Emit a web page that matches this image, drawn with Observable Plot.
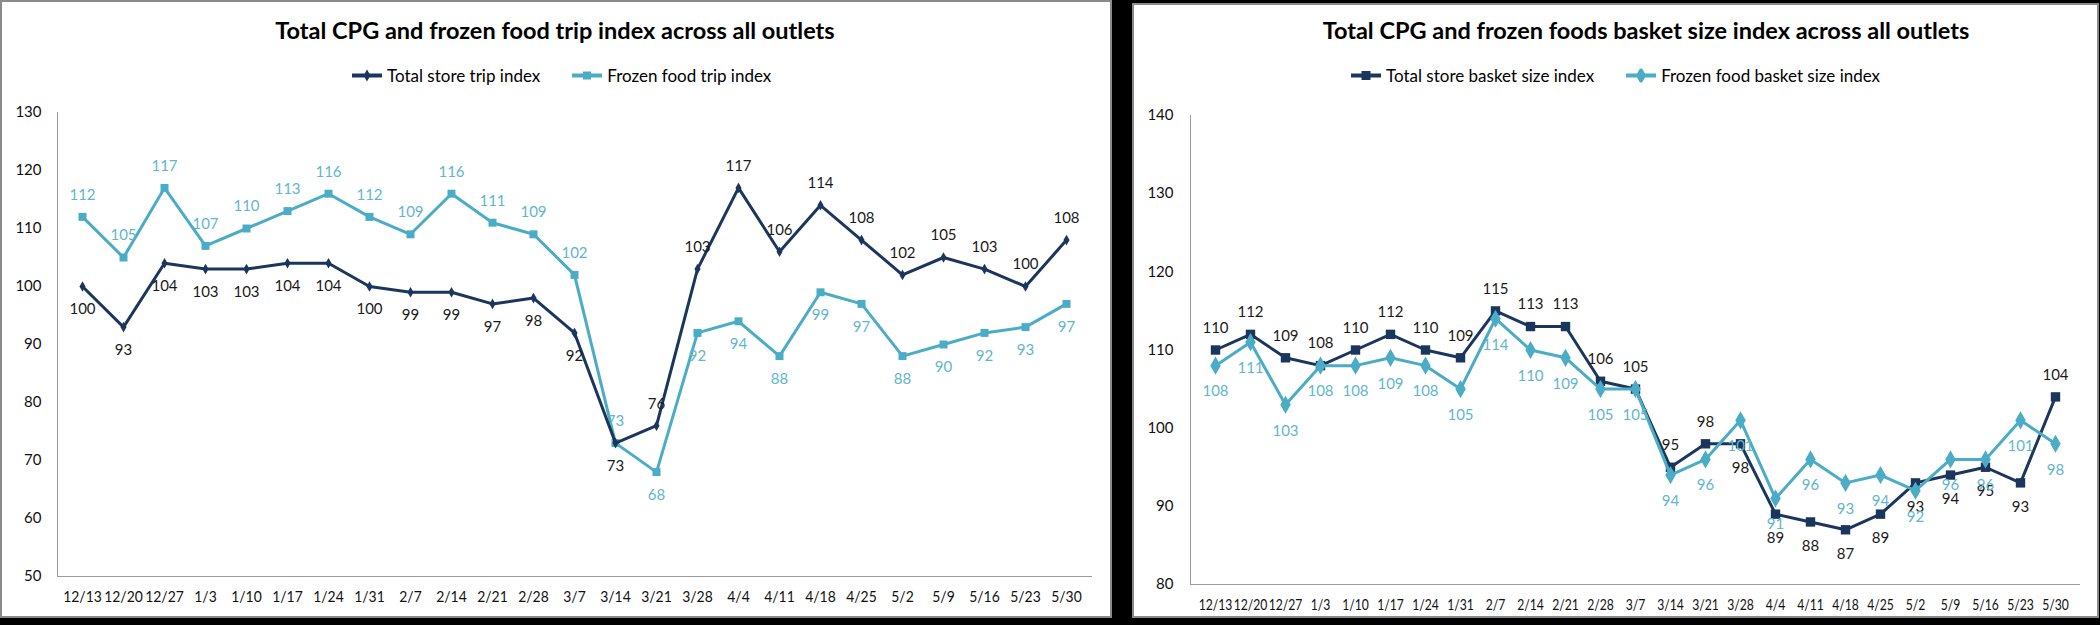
<!DOCTYPE html>
<html><head><meta charset="utf-8">
<script src="https://cdn.jsdelivr.net/npm/d3@7"></script>
<script src="https://cdn.jsdelivr.net/npm/@observablehq/plot@0.6"></script>
<style>
body{margin:0;background:#000;width:2100px;height:625px;overflow:hidden;font-family:Lato,"Open Sans",sans-serif;}
#root{position:relative;width:2100px;height:625px;}
.panel{position:absolute;background:#fff;border:2px solid #8a8a8a;box-sizing:border-box;}
.title{position:absolute;font-weight:700;font-size:23.5px;color:#000;white-space:nowrap;transform:translate(-50%,-50%);}
.legend{position:absolute;display:flex;align-items:center;font-size:17px;color:#000;white-space:nowrap;transform:translateY(-50%);}
.legend .item{display:flex;align-items:center;margin-right:31px;}
.legend svg{margin-right:4px;}
.chart{position:absolute;}
</style>
</head><body><div id="root"></div>
<script>
// ---- data ----
const dates = ["12/13","12/20","12/27","1/3","1/10","1/17","1/24","1/31","2/7","2/14","2/21","2/28","3/7","3/14","3/21","3/28","4/4","4/11","4/18","4/25","5/2","5/9","5/16","5/23","5/30"];

const tripTotal  = [100,93,104,103,103,104,104,100,99,99,97,98,92,73,76,103,117,106,114,108,102,105,103,100,108];
const tripFrozen = [112,105,117,107,110,113,116,112,109,116,111,109,102,73,68,92,94,88,99,97,88,90,92,93,97];
const basketTotal  = [110,112,109,108,110,112,110,109,115,113,113,106,105,95,98,98,89,88,87,89,93,94,95,93,104];
const basketFrozen = [108,111,103,108,108,109,108,105,114,110,109,105,105,94,96,101,91,96,93,94,92,96,96,101,98];

// data-label side: a = above, b = below
const tripTotalSide  = ["b","b","b","b","b","b","b","b","b","b","b","b","b","b","a","a","a","a","a","a","a","a","a","a","a"];
const tripFrozenSide = ["a","a","a","a","a","a","a","a","a","a","a","a","a","a","b","b","b","b","b","b","b","b","b","b","b"];
const basketTotalSide  = ["a","a","a","a","a","a","a","a","a","a","a","a","a","a","a","b","b","b","b","b","b","b","b","b","a"];
const basketFrozenSide = ["b","b","b","b","b","b","b","b","b","b","b","b","b","b","b","b","b","b","b","b","b","b","b","b","b"];

const tripTicks = [50,60,70,80,90,100,110,120,130];
const basketTicks = [80,90,100,110,120,130,140];

const tripTitle = "Total CPG and frozen food trip index across all outlets";
const basketTitle = "Total CPG and frozen foods basket size index across all outlets";
const tripSeriesNames = ["Total store trip index","Frozen food trip index"];
const basketSeriesNames = ["Total store basket size index","Frozen food basket size index"];

const DARK = "#1b365d", LIGHT = "#4bacc6", DARKLBL = "#1a1a1a", LIGHTLBL = "#62b6cc";

function rows(values, sides){ return dates.map((d,i)=>({date:d, value:values[i], side:sides[i]})); }

function seriesMarks(data, color, lblColor, symbol, r, dyA, dyB){
  return [
    Plot.line(data,{x:"date",y:"value",stroke:color,strokeWidth:3}),
    Plot.dot(data,{x:"date",y:"value",fill:color,symbol:symbol,r:r}),
    Plot.text(data.filter(d=>d.side==="a"),{x:"date",y:"value",text:d=>String(d.value),dy:-dyA,fill:lblColor,fontSize:15}),
    Plot.text(data.filter(d=>d.side==="b"),{x:"date",y:"value",text:d=>String(d.value),dy:dyB,fill:lblColor,fontSize:15})
  ];
}

function makeChart(opts){
  const svg = Plot.plot({
    width:opts.width, height:opts.height,
    marginLeft:opts.ml, marginRight:opts.mr, marginTop:opts.mt, marginBottom:opts.mb,
    style:{fontFamily:"Lato, 'Open Sans', sans-serif", fontSize:"15px", color:"#111", background:"transparent", overflow:"visible"},
    x:{type:"point", domain:dates, padding:0.5},
    y:{domain:opts.ydomain},
    marks:[
      Plot.frame({anchor:"left", stroke:"#9c9c9c"}),
      Plot.frame({anchor:"bottom", stroke:"#9c9c9c"}),
      Plot.axisY({ticks:opts.ticks, tickSize:0, tickPadding:opts.ytp, label:null, fontSize:15, tickFormat:d=>String(d)}),
      Plot.axisX({tickSize:0, tickPadding:14, label:null, fontSize:16}),
      ...opts.marks
    ]
  });
  // condense the date tick labels horizontally, as in the reference
  d3.select(svg).selectAll('g[aria-label="x-axis tick label"] text').each(function(){
    const t = this.getAttribute("transform") || "";
    this.setAttribute("transform", t + ` scale(${opts.xScale},1)`);
  });
  return svg;
}

function legendSym(color, symbol, size){
  const s = d3.select(document.createElementNS("http://www.w3.org/2000/svg","svg")).attr("width",32).attr("height",14);
  s.append("line").attr("x1",1).attr("x2",31).attr("y1",7).attr("y2",7).attr("stroke",color).attr("stroke-width",4);
  s.append("path").attr("transform","translate(16,7)").attr("fill",color)
    .attr("d", d3.symbol(symbol, size)());
  return s.node();
}
function makeLegend(left, top, items){
  const div = document.createElement("div");
  div.className = "legend"; div.style.left = left+"px"; div.style.top = top+"px";
  items.forEach(it=>{
    const item = document.createElement("div"); item.className="item";
    item.appendChild(legendSym(it.color, it.symbol, it.size));
    const t = document.createElement("span"); t.textContent = it.name; item.appendChild(t);
    div.appendChild(item);
  });
  return div;
}

const root = document.getElementById("root");
function panel(l,t,w,h){ const p=document.createElement("div"); p.className="panel"; Object.assign(p.style,{left:l+"px",top:t+"px",width:w+"px",height:h+"px"}); root.appendChild(p); }
function title(text,cx,cy){ const d=document.createElement("div"); d.className="title"; d.textContent=text; d.style.left=cx+"px"; d.style.top=cy+"px"; root.appendChild(d); }

panel(0,0,1112,618);
panel(1132,3,967,615);

title(tripTitle,555,30);
title(basketTitle,1646,30);

root.appendChild(makeLegend(351,75,[
  {name:tripSeriesNames[0], color:DARK, symbol:d3.symbolDiamond, size:40},
  {name:tripSeriesNames[1], color:LIGHT, symbol:d3.symbolSquare, size:64}
]));
root.appendChild(makeLegend(1350,75,[
  {name:basketSeriesNames[0], color:DARK, symbol:d3.symbolSquare, size:81},
  {name:basketSeriesNames[1], color:LIGHT, symbol:d3.symbolDiamond, size:90}
]));

const left = makeChart({width:1111,height:525,ml:57,mr:20,mt:22,mb:39,ydomain:[50,130],ticks:tripTicks,ytp:16,xScale:0.87,
  marks:[
    ...seriesMarks(rows(tripFrozen,tripFrozenSide), LIGHT, LIGHTLBL, "square", 4.5, 22, 23),
    ...seriesMarks(rows(tripTotal,tripTotalSide), DARK, DARKLBL, "diamond", 3.2, 22, 23)
  ]});
left.classList.add("chart"); left.style.left="0px"; left.style.top="90px";
root.appendChild(left);

const right = makeChart({width:965,height:525,ml:57,mr:19,mt:20,mb:36,ydomain:[80,140],ticks:basketTicks,ytp:17,xScale:0.76,
  marks:[
    ...seriesMarks(rows(basketTotal,basketTotalSide), DARK, DARKLBL, "square", 5.3, 22, 24),
    ...seriesMarks(rows(basketFrozen,basketFrozenSide), LIGHT, LIGHTLBL, "diamond", 5.5, 22, 26)
  ]});
right.classList.add("chart"); right.style.left="1133px"; right.style.top="95px";
root.appendChild(right);
</script>
</body></html>
